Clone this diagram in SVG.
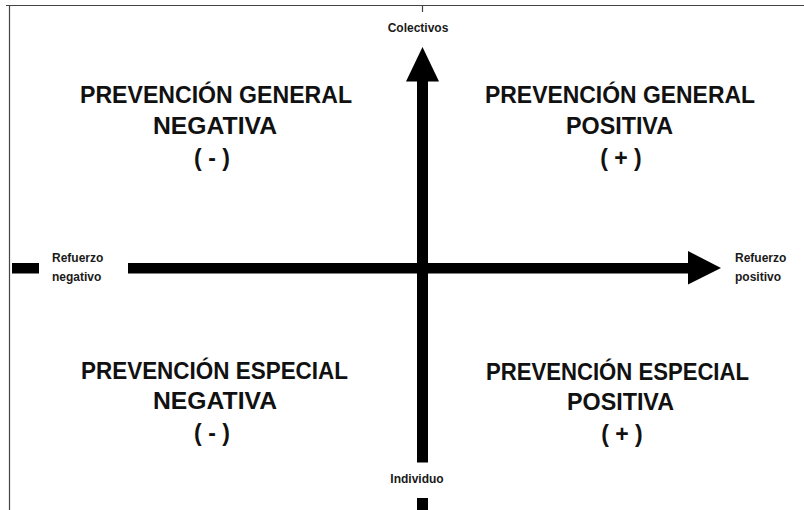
<svg xmlns="http://www.w3.org/2000/svg" width="804" height="510" viewBox="0 0 804 510">
<style>
.big{font-family:"Liberation Sans",Arial,sans-serif;font-weight:bold;font-size:23px;fill:#111;text-anchor:middle}
.small{font-family:"Liberation Sans",Arial,sans-serif;font-weight:bold;font-size:12px;fill:#1a1a1a}
.frame{stroke:#444;stroke-width:1.2;fill:none}
.bar{fill:#000}
</style>
<rect width="804" height="510" fill="#fff"/>
<g id="frame">
<line class="frame" x1="6" y1="5.5" x2="804" y2="5.5"/>
<line class="frame" x1="9.5" y1="5" x2="9.5" y2="510"/>
<line class="frame" x1="422.5" y1="5" x2="422.5" y2="12"/>
</g>
<g id="connectors">
<rect class="bar" x="12" y="263" width="27" height="10.5"/>
<rect class="bar" x="128" y="263" width="561" height="10.5"/>
<polygon class="bar" points="688,251 721,268 688,284.5"/>
<polygon class="bar" points="406,81.5 422.5,47 439,81.5"/>
<rect class="bar" x="417" y="80" width="11" height="382.5"/>
<rect class="bar" x="417" y="498" width="11" height="12"/>
</g>
<g id="label-colectivos"><text class="small" x="418" y="32" text-anchor="middle">Colectivos</text></g>
<g id="label-individuo"><text class="small" x="417" y="483" text-anchor="middle">Individuo</text></g>
<g id="label-negativo"><text class="small" x="52" y="262">Refuerzo</text><text class="small" x="52" y="281">negativo</text></g>
<g id="label-positivo"><text class="small" x="735" y="262">Refuerzo</text><text class="small" x="735" y="281">positivo</text></g>
<g id="q-general-negativa">
<text class="big" x="216" y="103" textLength="272" lengthAdjust="spacingAndGlyphs">PREVENCIÓN GENERAL</text>
<text class="big" x="215" y="134" textLength="124" lengthAdjust="spacingAndGlyphs">NEGATIVA</text>
<text class="big" x="212" y="166">( - )</text>
</g>
<g id="q-general-positiva">
<text class="big" x="620" y="103" textLength="270" lengthAdjust="spacingAndGlyphs">PREVENCIÓN GENERAL</text>
<text class="big" x="619.5" y="134" textLength="107" lengthAdjust="spacingAndGlyphs">POSITIVA</text>
<text class="big" x="621" y="166">( + )</text>
</g>
<g id="q-especial-negativa">
<text class="big" x="214.5" y="379" textLength="267" lengthAdjust="spacingAndGlyphs">PREVENCIÓN ESPECIAL</text>
<text class="big" x="215" y="409" textLength="124" lengthAdjust="spacingAndGlyphs">NEGATIVA</text>
<text class="big" x="212" y="441">( - )</text>
</g>
<g id="q-especial-positiva">
<text class="big" x="617.5" y="380" textLength="263" lengthAdjust="spacingAndGlyphs">PREVENCIÓN ESPECIAL</text>
<text class="big" x="620.5" y="410" textLength="107" lengthAdjust="spacingAndGlyphs">POSITIVA</text>
<text class="big" x="622" y="442">( + )</text>
</g>
</svg>
